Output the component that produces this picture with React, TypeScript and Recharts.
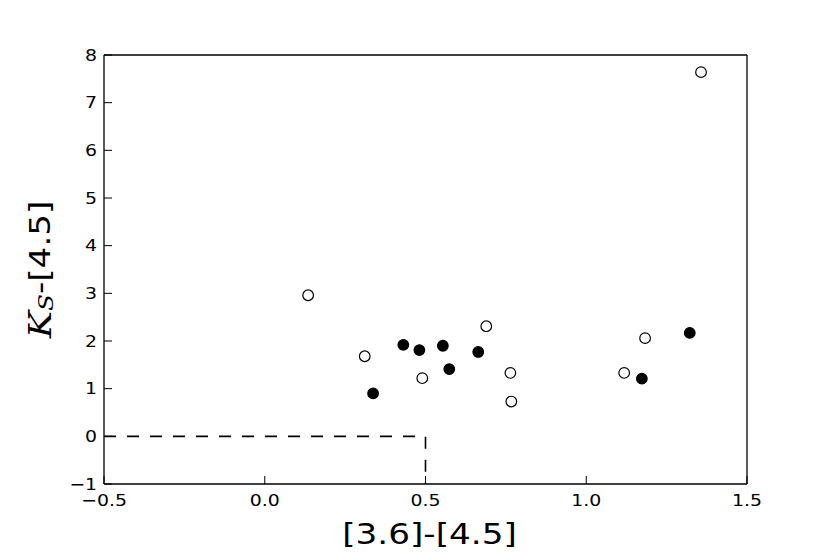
import { ScatterChart, Scatter, XAxis, YAxis } from "recharts";

// colour index data
const openX = [0.135, 0.311, 0.49, 0.689, 0.764, 0.767, 1.118, 1.183, 1.357];
const openY = [2.96, 1.68, 1.22, 2.31, 1.33, 0.73, 1.33, 2.06, 7.64];
const filledX = [0.337, 0.431, 0.481, 0.554, 0.574, 0.664, 1.173, 1.322];
const filledY = [0.9, 1.92, 1.81, 1.9, 1.41, 1.77, 1.21, 2.17];
const boxX = [-0.5, 0.5, 0.5];
const boxY = [0, 0, -1];
const xTicks = [-0.5, 0, 0.5, 1, 1.5];
const yTicks = [-1, 0, 1, 2, 3, 4, 5, 6, 7, 8];

const openData = openX.map((x, i) => ({ x, y: openY[i] }));
const filledData = filledX.map((x, i) => ({ x, y: filledY[i] }));
const boxData = boxX.map((x, i) => ({ x, y: boxY[i] }));

const FONT = "DejaVu Sans, sans-serif";
const STRETCH = 1.18; // the reference glyphs are a bit wider than DejaVu
const frame = { stroke: "#000", strokeWidth: 1.3 };
const tickLine = { stroke: "#000", strokeWidth: 1 };
const minus = (s: string) => s.replace("-", "\u2212");
const widen = (x: number) => `translate(${x},0) scale(${STRETCH},1) translate(${-x},0)`;

const BottomTick = ({ x, y, payload }: any) => (
    <text x={x} y={y} dy="0.71em" textAnchor="middle" transform={widen(x)} fontFamily={FONT} fontSize={16} fill="#000">
        {minus(payload.value.toFixed(1))}
    </text>
);

const LeftTick = ({ x, y, payload }: any) => (
    <text x={x} y={y} dy="0.355em" textAnchor="end" transform={widen(x)} fontFamily={FONT} fontSize={16} fill="#000">
        {minus(String(payload.value))}
    </text>
);

const XLabel = ({ viewBox }: any) => {
    const cx = viewBox.x + viewBox.width / 2 + 4;
    return (
        <text x={cx} y={viewBox.y + 60} textAnchor="middle" transform={widen(cx)} fontFamily={FONT} fontSize={29} fill="#000">
            [3.6]-[4.5]
        </text>
    );
};

const YLabel = ({ viewBox }: any) => {
    const cx = viewBox.x + 32;
    const cy = viewBox.y + viewBox.height / 2;
    return (
        <text
            x={0}
            y={0}
            transform={`translate(${cx},${cy}) rotate(-90) scale(${STRETCH},1)`}
            textAnchor="middle"
            dominantBaseline="central"
            fontFamily={FONT}
            fontSize={29}
            fill="#000"
        >
            <tspan fontFamily="DejaVu Serif, serif" fontStyle="italic" fontSize={31}>K</tspan>
            <tspan fontFamily="DejaVu Serif, serif" fontStyle="italic" fontSize={21} dy={6}>S</tspan>
            <tspan dy={-6}>-[4.5]</tspan>
        </text>
    );
};

const Dot = ({ cx, cy, fill }: any) => (
    <circle cx={cx} cy={cy} r={5.3} fill={fill} stroke="#000" strokeWidth={1.2} />
);

export default function App() {
    return (
        <ScatterChart width={822} height={546} margin={{ top: 46, right: 82, left: 0, bottom: 0 }}>
            <XAxis
                dataKey="x"
                type="number"
                domain={[-0.5, 1.5]}
                ticks={xTicks}
                height={70}
                tickSize={-8}
                tickMargin={19}
                tick={<BottomTick />}
                tickLine={tickLine}
                axisLine={frame}
                label={{ content: <XLabel /> }}
            />
            <XAxis
                xAxisId="top"
                orientation="top"
                type="number"
                domain={[-0.5, 1.5]}
                ticks={xTicks}
                height={1}
                tickSize={-8}
                tick={false}
                tickLine={tickLine}
                axisLine={frame}
            />
            <YAxis
                dataKey="y"
                type="number"
                domain={[-1, 8]}
                ticks={yTicks}
                width={96}
                tickSize={-8}
                tickMargin={15}
                tick={<LeftTick />}
                tickLine={tickLine}
                axisLine={frame}
                label={{ content: <YLabel /> }}
            />
            <YAxis
                yAxisId="right"
                orientation="right"
                type="number"
                domain={[-1, 8]}
                ticks={yTicks}
                width={1}
                tickSize={-8}
                tick={false}
                tickLine={tickLine}
                axisLine={frame}
            />
            <Scatter
                data={boxData}
                line={{ stroke: "#000", strokeWidth: 1.6, strokeDasharray: "12 11" }}
                shape={() => <g />}
                isAnimationActive={false}
            />
            <Scatter data={openData} fill="#fff" shape={<Dot />} isAnimationActive={false} />
            <Scatter data={filledData} fill="#000" shape={<Dot />} isAnimationActive={false} />
        </ScatterChart>
    );
}
